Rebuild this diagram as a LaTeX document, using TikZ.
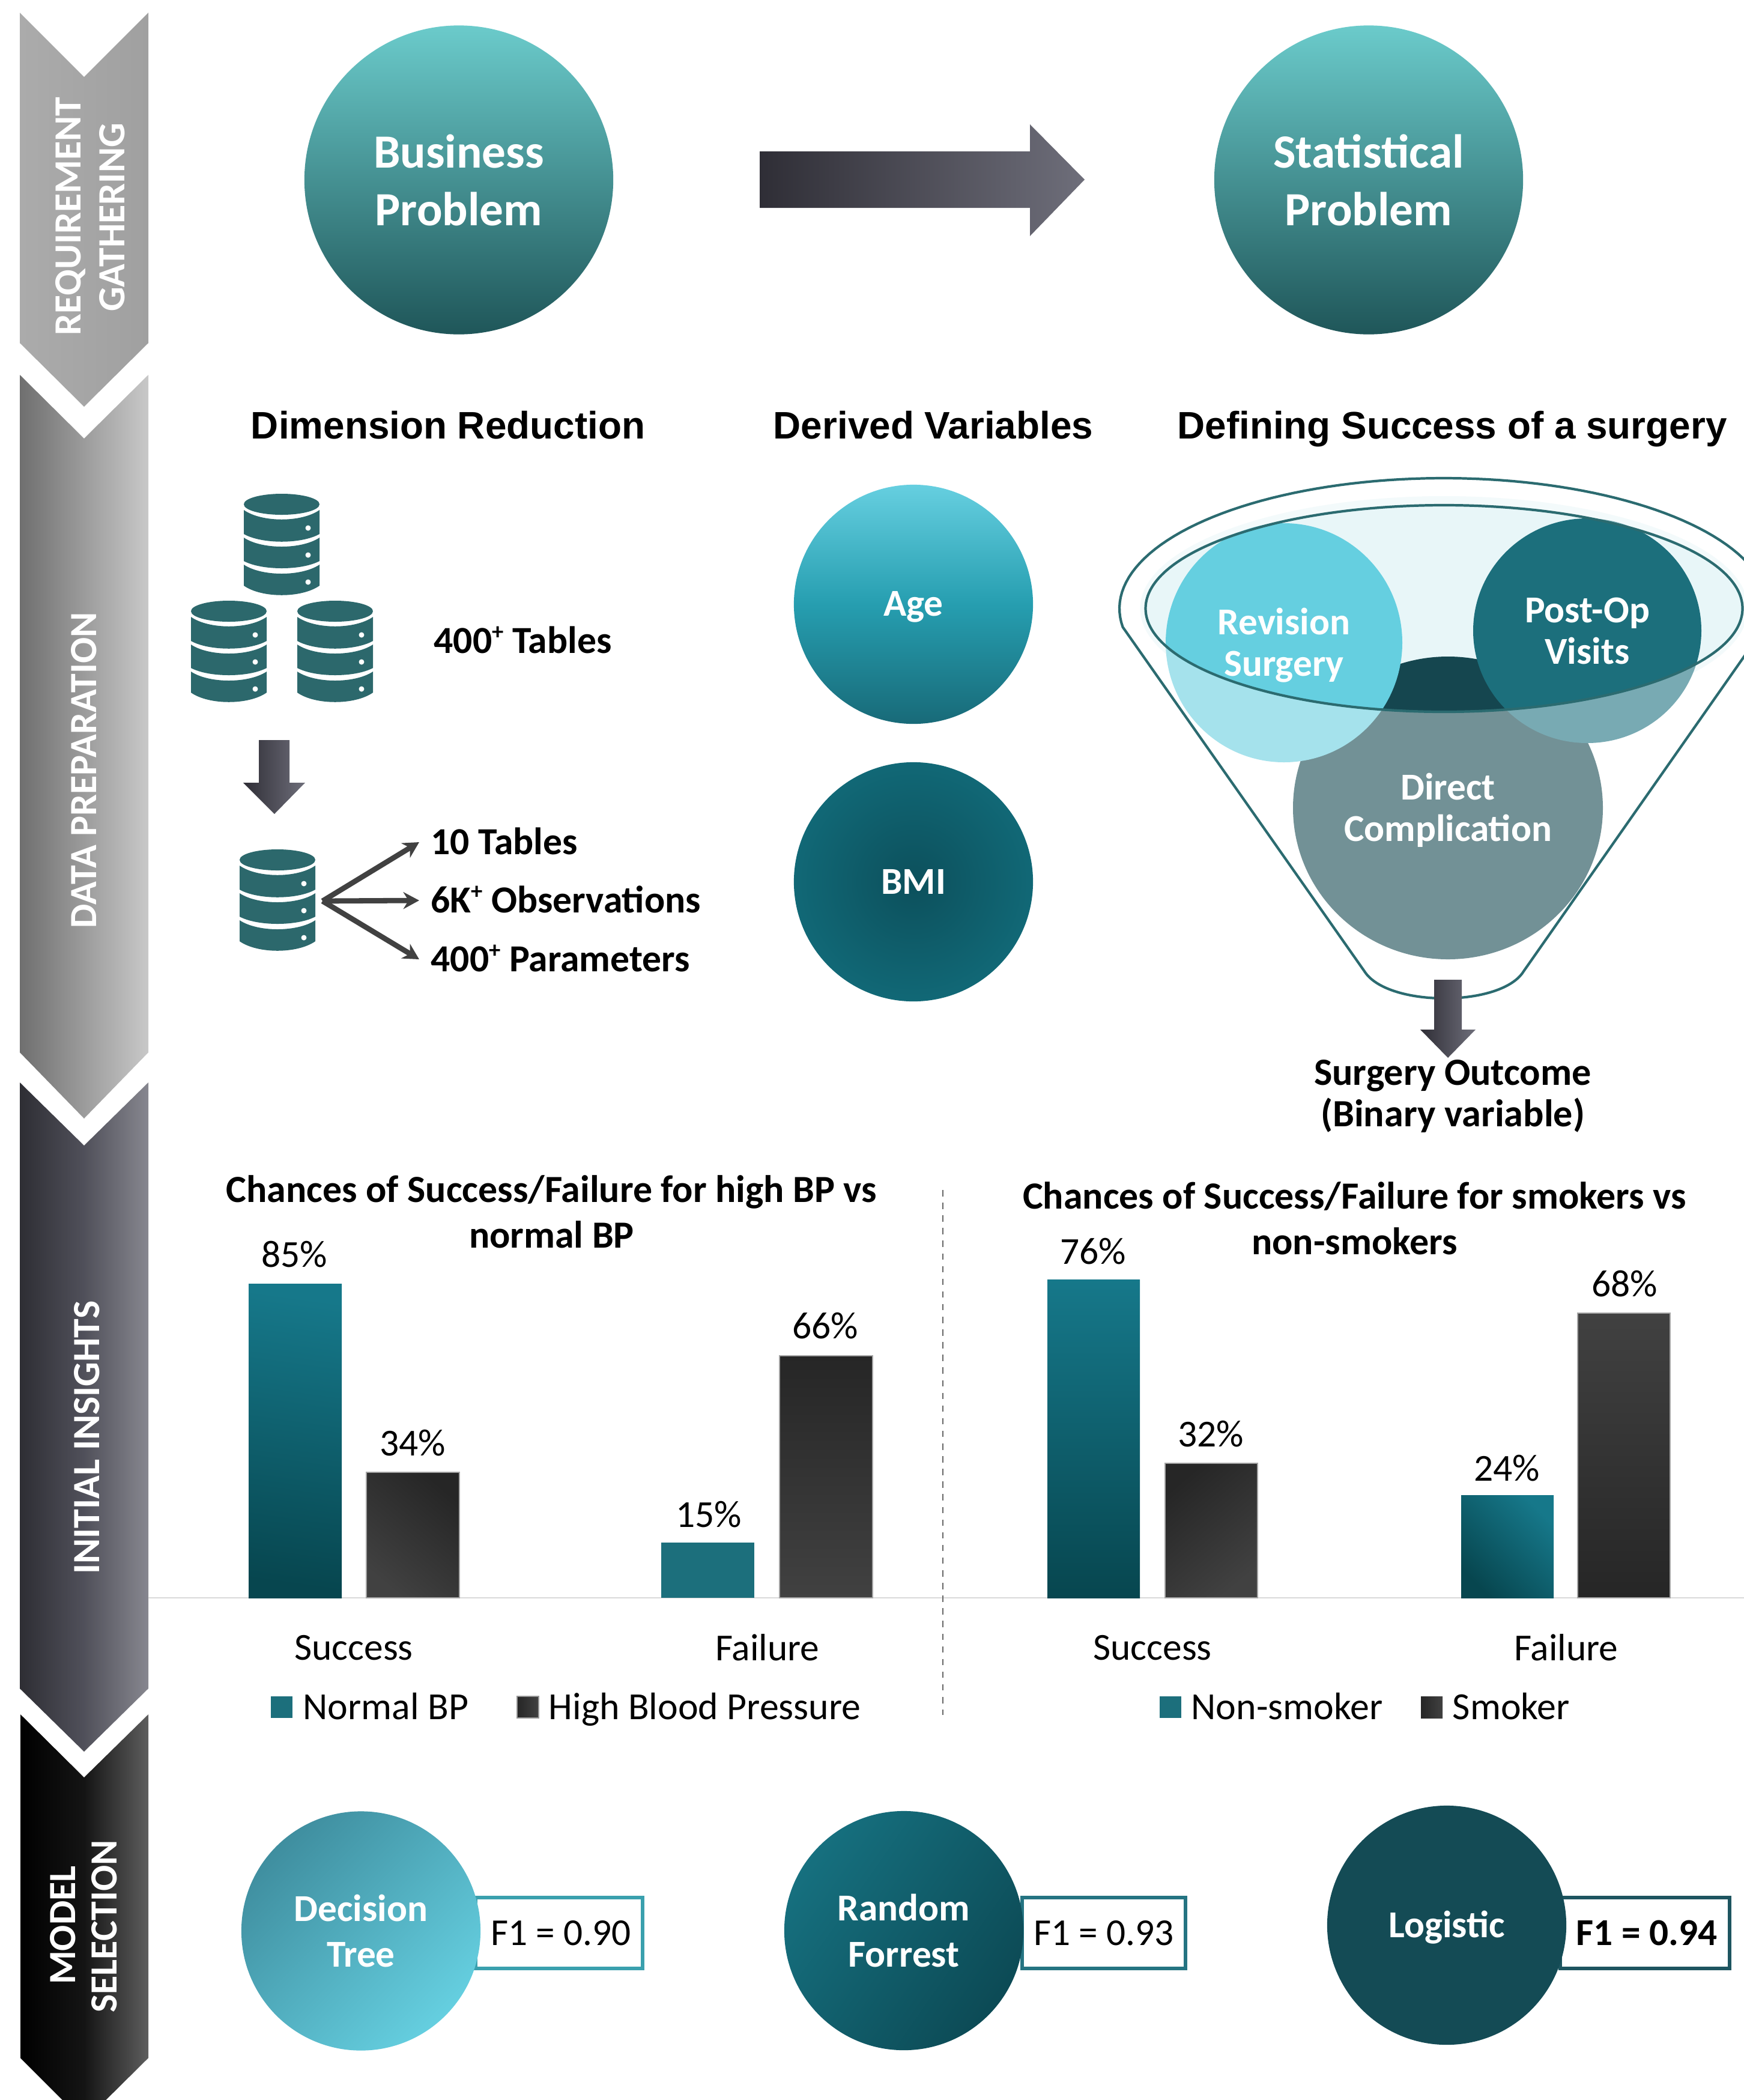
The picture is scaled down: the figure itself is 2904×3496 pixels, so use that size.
\documentclass[tikz,border=0pt]{standalone}
\usepackage{fontspec}
\setmainfont{Carlito}
\newfontfamily\headfont{Liberation Sans}
\usetikzlibrary{arrows.meta}
\definecolor{dbteal}{HTML}{2C686C}
\definecolor{funline}{HTML}{2B6B70}
\definecolor{tealmid}{HTML}{1C6F7C}
\definecolor{tealdeep}{HTML}{144B55}
\definecolor{tealaxis}{HTML}{3AA0AE}
\definecolor{tealbar}{HTML}{16788A}
\definecolor{tealbarlow}{HTML}{07464F}
\definecolor{cyanbright}{HTML}{65CFE0}
\definecolor{cyanpale}{HTML}{A5E2EC}
\definecolor{postpale}{HTML}{78AAB3}
\definecolor{directpale}{HTML}{729196}
\definecolor{directdeep}{HTML}{15464F}
\definecolor{inneraqua}{HTML}{E8F6F8}
\definecolor{halo}{HTML}{F3FAFB}
\definecolor{barkdark}{HTML}{262626}
\definecolor{barklight}{HTML}{414141}
\definecolor{arrowdark}{HTML}{2F2E36}
\definecolor{arrowlight}{HTML}{6E6E7A}
\definecolor{chevA}{HTML}{ABABAB}
\definecolor{chevB}{HTML}{A0A0A0}
\definecolor{chevC}{HTML}{6F6F6F}
\definecolor{chevD}{HTML}{C8C8C8}
\definecolor{chevE}{HTML}{2E2E34}
\definecolor{chevF}{HTML}{50505A}
\definecolor{chevG}{HTML}{87878F}
\definecolor{chevH}{HTML}{5E5E5E}
\definecolor{bigtop}{HTML}{6BCBCB}
\definecolor{bigbot}{HTML}{1F5659}
\definecolor{agetop}{HTML}{66CFE0}
\definecolor{agemid}{HTML}{269EB0}
\definecolor{agebot}{HTML}{186A78}
\definecolor{bmiout}{HTML}{116876}
\definecolor{bmiin}{HTML}{0C505C}
\definecolor{rftop}{HTML}{16707F}
\definecolor{rfbot}{HTML}{0C4A55}
\definecolor{dttop}{HTML}{3F8E9F}
\definecolor{rfborder}{HTML}{257482}
\definecolor{lgborder}{HTML}{1E5560}
\newcommand{\plusup}{\raisebox{0.36em}{\fontsize{11}{11}\selectfont +}}
\newcommand{\dbicon}[2]{%
\begin{scope}[shift={(#1,#2)}]
\fill[dbteal] (63,17.5) ellipse [x radius=63, y radius=17.5];
\fill[dbteal] (0,27) .. controls (30,48) and (96,48) .. (126,27) -- (126,67) .. controls (96,84) and (30,84) .. (0,67) -- cycle;
\fill[dbteal] (0,73) .. controls (30,93) and (96,93) .. (126,73) -- (126,112) .. controls (96,128) and (30,128) .. (0,112) -- cycle;
\fill[dbteal] (0,118) .. controls (30,138) and (96,138) .. (126,118) -- (126,153) .. controls (96,174) and (30,174) .. (0,153) -- cycle;
\fill[white] (107,57) circle (4.5) (107,102) circle (4.5) (107,147) circle (4.5);
\end{scope}}
\tikzset{
  sidelabel/.style={text=white,rotate=90,align=center,font=\fontsize{18.2}{20}\selectfont\bfseries,inner sep=0},
  headlabel/.style={anchor=base,font=\headfont\bfseries\fontsize{18.15}{22}\selectfont,inner sep=0},
  bigcircle/.style={circle,inner sep=0,minimum size=5.14cm,text=white,align=center,font=\fontsize{22.55}{27.3}\selectfont\bfseries,top color=bigtop,bottom color=bigbot},
  midcircle/.style={circle,inner sep=0,minimum size=3.98cm,text=white,align=center,font=\fontsize{18}{22}\selectfont\bfseries},
  bodybold/.style={inner sep=0,anchor=base west,font=\fontsize{18.1}{22}\selectfont\bfseries},
  circtext/.style={inner sep=0,text=white,align=center,font=\fontsize{18}{19.6}\selectfont\bfseries},
  charttitle/.style={inner sep=0,align=center,font=\fontsize{18.17}{21.6}\selectfont\bfseries},
  plainlabel/.style={inner sep=0,font=\fontsize{18.05}{22}\selectfont},
  legendtext/.style={inner sep=0,anchor=base west,font=\fontsize{18.15}{22}\selectfont},
  f1box/.style={draw=#1,line width=1.7pt,fill=white,minimum height=1.18cm,inner sep=0,font=\fontsize{18}{22}\selectfont},
  splitarrow/.style={draw=barklight,line width=2.5pt,-{Stealth[length=7.5pt,width=8pt]}},
  swatch/.style={inner sep=0,minimum size=0.36cm},
  blockarrow/.style={left color=arrowdark,right color=arrowlight},
  darkbar/.style={draw=black!35,line width=0.4pt},
}
\begin{document}
\begin{tikzpicture}[x=0.01cm,y=-0.01cm]
\clip (0,0) rectangle (2904,3496);
\fill[white] (0,0) rectangle (2904,3496);

% side chevrons
\shade[left color=chevA,right color=chevB] (33,21) -- (140,128) -- (247,21) -- (247,571) -- (140,677) -- (33,571) -- cycle;
\shade[left color=chevC,right color=chevD] (33,624) -- (140,730) -- (247,624) -- (247,1752) -- (140,1862) -- (33,1752) -- cycle;
\shade[left color=chevE,right color=chevG,middle color=chevF] (33,1802) -- (140,1907) -- (247,1802) -- (247,2811) -- (140,2916) -- (33,2811) -- cycle;
\shade[left color=black,right color=chevH,middle color=black!92] (34,2854) -- (140,2959) -- (247,2854) -- (247,3426) -- (140,3532) -- (34,3426) -- cycle;
\node[sidelabel] (req1) at (118,360) {REQUIREMENT};
\node[sidelabel] (req2) at (187,362) {GATHERING};
\node[sidelabel] (datap) at (140,1282) {DATA PREPARATION};
\node[sidelabel] (initi) at (145,2393) {INITIAL INSIGHTS};
\node[sidelabel] (model1) at (105,3205) {MODEL};
\node[sidelabel] (model2) at (174,3207) {SELECTION};

% top row
\node[bigcircle] (biz) at (764,299.5) {Business\\Problem};
\node[bigcircle] (stat) at (2279,299.5) {Statistical\\Problem};
\shade[blockarrow] (1265,252) -- (1715,252) -- (1715,207) -- (1806,299) -- (1715,393) -- (1715,346) -- (1265,346) -- cycle;

% heads
\node[headlabel] (dimr) at (746,730) {Dimension Reduction};
\node[headlabel] (derv) at (1554,730) {Derived Variables};
\node[headlabel] (defs) at (2418,730) {Defining Success of a surgery};

% databases
\dbicon{406}{822}
\dbicon{318}{1000}
\dbicon{495}{1000}
\dbicon{399}{1414}
\shade[blockarrow] (431,1232) -- (482,1232) -- (482,1303) -- (508,1303) -- (457,1355) -- (405,1303) -- (431,1303) -- cycle;
\node[bodybold] (tbl) at (722,1087) {400\plusup{} Tables};
\node[bodybold] (t1) at (717,1422) {10 Tables};
\node[bodybold] (t2) at (717,1519) {6K\plusup{} Observations};
\node[bodybold] (t3) at (717,1617) {400\plusup{} Parameters};
\coordinate (hub) at (537,1500);
\coordinate (e1) at (698,1402);
\coordinate (e2) at (698,1499);
\coordinate (e3) at (698,1597);
\draw[splitarrow] (hub) -- (e1);
\draw[splitarrow] (hub) -- (e2);
\draw[splitarrow] (hub) -- (e3);

% derived
\node[midcircle,top color=agetop,bottom color=agebot,middle color=agemid] (age) at (1521,1006) {};
\node[circtext] (agetxt) at (1521,1010) {Age};
\node[midcircle,inner color=bmiin,outer color=bmiout] (bmi) at (1521,1468) {BMI};

% funnel
\draw[funline,line width=1.2pt,fill=white] plot[samples=90,domain=188.2:-8.2] ({2404+540*cos(\x)},{1013-217*sin(\x)}) -- (2537,1617) .. controls (2500,1677) and (2310,1677) .. (2272,1617) -- cycle;
\fill[halo] (2404.5,1013) ellipse [x radius=506, y radius=187];
\fill[directpale] (2411,1345) ellipse [x radius=258, y radius=252];
\fill[cyanpale] (2138,1070) ellipse [x radius=197, y radius=199];
\fill[postpale] (2643,1050) ellipse [x radius=190, y radius=187];
\begin{scope}
\clip (2404.5,1013) ellipse [x radius=497, y radius=172];
\fill[inneraqua] (1900,800) rectangle (2904,1200);
\fill[directdeep] (2411,1345) ellipse [x radius=258, y radius=252];
\fill[cyanbright] (2138,1070) ellipse [x radius=197, y radius=199];
\fill[tealmid] (2643,1050) ellipse [x radius=190, y radius=187];
\end{scope}
\draw[funline,line width=1.2pt] (2404.5,1013) ellipse [x radius=497, y radius=172];
\node[circtext] (rev) at (2138,1074) {Revision\\Surgery};
\node[circtext] (pop) at (2643,1050) {Post-Op\\Visits};
\node[circtext] (dir) at (2411,1349) {Direct\\Complication};
\shade[blockarrow] (2388,1631) -- (2434,1631) -- (2434,1714) -- (2457,1714) -- (2411,1761) -- (2365,1714) -- (2388,1714) -- cycle;
\node[circtext,text=black,font=\fontsize{18.25}{19.6}\selectfont\bfseries] (out) at (2419,1825) {Surgery Outcome\\(Binary variable)};

% charts
\node[charttitle] (ct1) at (918.5,2017) {Chances of Success/Failure for high BP vs\\normal BP};
\node[charttitle] (ct2) at (2255.5,2028) {Chances of Success/Failure for smokers vs\\non-smokers};
\draw[black!15,line width=0.6pt] (247,2660) -- (2904,2660);
\draw[black!60,line width=0.6pt,dashed] (1570,1981) -- (1570,2855);
% left bars
\shade[top color=tealbar,bottom color=tealbarlow,shading angle=-8] (414,2137) rectangle (569,2660);
\shade[darkbar,top color=barkdark,bottom color=barklight,shading angle=-40] (610,2451) rectangle (765,2660);
\fill[tealmid] (1101,2568) rectangle (1256,2660);
\shade[darkbar,top color=barkdark,bottom color=barklight] (1298,2257) rectangle (1453,2660);
% right bars
\shade[top color=tealbar,bottom color=tealbarlow] (1744,2130) rectangle (1898,2660);
\shade[darkbar,top color=barkdark,bottom color=barklight,shading angle=40] (1940,2436) rectangle (2094,2660);
\shade[top color=tealbar,bottom color=tealbarlow,shading angle=-45] (2433,2489) rectangle (2587,2660);
\shade[darkbar,top color=barklight,bottom color=barkdark] (2627,2186) rectangle (2781,2660);
\node[plainlabel] (v85) at (490,2088) {85\%};
\node[plainlabel] (v34) at (687,2402) {34\%};
\node[plainlabel] (v15) at (1180,2521) {15\%};
\node[plainlabel] (v66) at (1374,2207) {66\%};
\node[plainlabel] (v76) at (1820,2083) {76\%};
\node[plainlabel] (v32) at (2016,2387) {32\%};
\node[plainlabel] (v24) at (2509,2444) {24\%};
\node[plainlabel] (v68) at (2705,2137) {68\%};
\node[plainlabel] (c1) at (589,2743) {Success};
\node[plainlabel] (c2) at (1278,2743) {Failure};
\node[plainlabel] (c3) at (1919,2743) {Success};
\node[plainlabel] (c4) at (2608,2743) {Failure};
\node[swatch,fill=tealmid] (s1) at (469,2842) {};
\node[legendtext] (l1) at (504,2862) {Normal BP};
\node[swatch,left color=barkdark,right color=barklight,draw=black!40,line width=0.4pt] (s2) at (879,2842) {};
\node[legendtext] (l2) at (913,2862) {High Blood Pressure};
\node[swatch,fill=tealmid] (s3) at (1949,2842) {};
\node[legendtext] (l3) at (1983,2862) {Non-smoker};
\node[swatch,left color=barkdark,right color=barklight] (s4) at (2384,2842) {};
\node[legendtext] (l4) at (2418,2862) {Smoker};

% models
\node[f1box=tealaxis,minimum width=2.77cm] (b1) at (931,3218) {\hspace*{0.06cm}F1 = 0.90};
\node[f1box=rfborder,minimum width=2.72cm] (b2) at (1838,3218) {F1 = 0.93};
\node[f1box=lgborder,minimum width=2.81cm,font=\fontsize{18}{22}\selectfont\bfseries] (b3) at (2739,3218) {\hspace*{0.06cm}F1 = 0.94};
\node[midcircle,top color=dttop,bottom color=cyanbright,shading angle=45,font=\fontsize{18}{21.8}\selectfont\bfseries] (dt) at (601,3214.5) {Decision\\Tree};
\node[midcircle,top color=rftop,bottom color=rfbot,shading angle=55,font=\fontsize{18}{21.8}\selectfont\bfseries] (rf) at (1505,3214) {Random\\Forrest};
\node[midcircle,fill=tealdeep] (lg) at (2409,3205) {};
\node[circtext] (lgtxt) at (2409,3209) {Logistic};
\end{tikzpicture}
\end{document}
